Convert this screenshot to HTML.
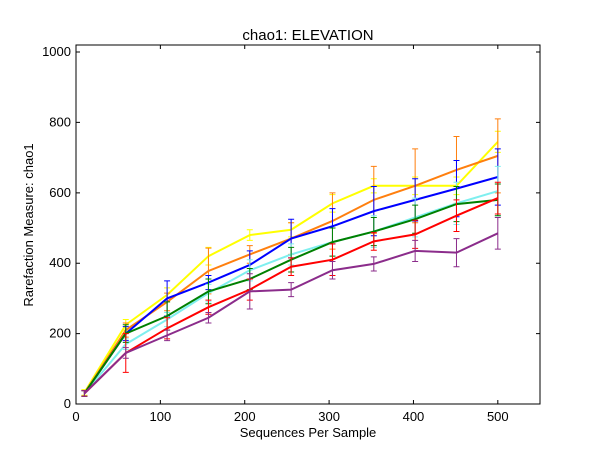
<!DOCTYPE html>
<html><head><meta charset="utf-8"><style>
body{margin:0;background:#fff;font-family:"Liberation Sans","DejaVu Sans",sans-serif}
svg text{font-family:"Liberation Sans","DejaVu Sans",sans-serif}
</style></head><body>
<svg id="chart" width="600" height="450" xmlns="http://www.w3.org/2000/svg">
<rect x="0" y="0" width="600" height="450" fill="#fff"/>
<g id="series"></g>
<g id="axes"></g>
</svg>
<script>
const xValues=[10,59,108,157,206,255,304,353,402,451,500];
const seriesNames=["yellow","orange","blue","cyan","green","red","purple"];
const seriesColors=["#ffff00","#ff7f0e","#0000ff","#7fefef","#008000","#ff0000","#8b2c8b"];
const yellowVals=[33,225,310,420,480,495,570,620,620,620,745];
const orangeVals=[30,210,290,378,425,470,520,580,620,665,705];
const blueVals=[30,200,300,345,395,470,505,548,580,612,645];
const cyanVals=[30,170,240,315,380,425,460,490,530,570,605];
const greenVals=[30,200,250,320,355,410,460,490,525,568,580];
const redVals=[30,145,215,275,325,390,410,462,482,535,585];
const purpleVals=[30,145,195,245,320,325,380,398,435,430,485];
const yellowErr=[8,15,20,25,15,20,25,20,25,25,30];
const orangeErr=[8,20,25,65,25,45,80,95,105,95,105];
const blueErr=[8,20,50,20,40,55,50,70,60,80,80];
const cyanErr=[8,15,20,25,30,30,40,45,55,60,70];
const greenErr=[8,25,40,35,30,35,40,40,40,50,45];
const redErr=[8,55,30,20,30,25,45,25,40,45,45];
const purpleErr=[8,15,15,15,50,20,25,20,30,40,45];
const xTicks=[0,100,200,300,400,500];
const yTicks=[0,200,400,600,800,1000];
const allVals=[yellowVals,orangeVals,blueVals,cyanVals,greenVals,redVals,purpleVals];
const allErr=[yellowErr,orangeErr,blueErr,cyanErr,greenErr,redErr,purpleErr];
const L=76,R=540,T=45,B=404,XMAX=550,YMAX=1020;
const xs=v=>L+v/XMAX*(R-L);
const ys=v=>B-v/YMAX*(B-T);
const NS="http://www.w3.org/2000/svg";
function mk(tag,attrs,parent){const e=document.createElementNS(NS,tag);for(const k in attrs)e.setAttribute(k,attrs[k]);parent.appendChild(e);return e;}
const sg=document.getElementById('series');
allVals.forEach((vals,si)=>{
  const g=mk('g',{},sg);
  
  
  const c=seriesColors[si];
  vals.forEach((v,i)=>{
    const x=xs(xValues[i]),e=allErr[si][i];
    const eb=mk('path',{d:`M${x},${ys(v-e)}V${ys(v+e)}M${x-3},${ys(v-e)}h6M${x-3},${ys(v+e)}h6`,stroke:c,'stroke-width':1,fill:'none'},g);
    
    
  });
  const ln=mk('polyline',{points:vals.map((v,i)=>xs(xValues[i])+','+ys(v)).join(' '),stroke:c,'stroke-width':2,fill:'none'},g);
  
  
});
const ag=document.getElementById('axes');
const fr=mk('rect',{x:L,y:T,width:R-L,height:B-T,fill:'none',stroke:'#000','stroke-width':1},ag);


xTicks.forEach(t=>{const x=xs(t);
  mk('path',{d:`M${x},${B}v-4M${x},${T}v4`,stroke:'#000'},ag);
  const tx=mk('text',{x:x,y:B+17,'text-anchor':'middle','font-size':13},ag);tx.textContent=t;
  
  
});
yTicks.forEach(t=>{const y=ys(t);
  mk('path',{d:`M${L},${y}h4M${R},${y}h-4`,stroke:'#000'},ag);
  const tx=mk('text',{x:L-5,y:y+4,'text-anchor':'end','font-size':13},ag);tx.textContent=t;
  
  
});
</script>
<svg style="position:absolute;left:0;top:0" width="600" height="450">
<text x="308" y="40" text-anchor="middle" font-size="15">chao1: ELEVATION</text>
<text x="308" y="437" text-anchor="middle" font-size="13">Sequences Per Sample</text>
<text x="33" y="225" text-anchor="middle" font-size="13" transform="rotate(-90 33 225)">Rarefaction Measure: chao1</text>
</svg>
</body></html>
